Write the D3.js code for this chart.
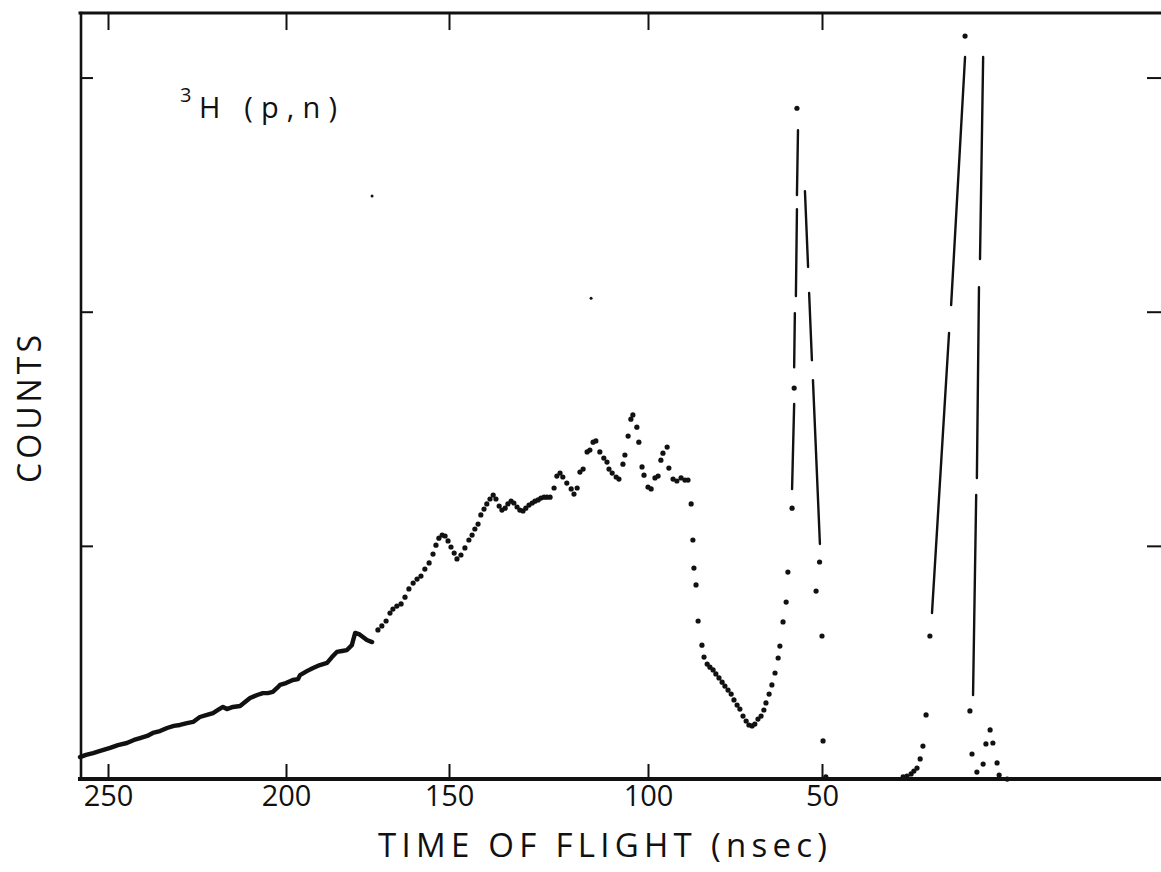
<!DOCTYPE html>
<html><head><meta charset="utf-8">
<script src="https://cdn.jsdelivr.net/npm/d3@7"></script>
<style>body{margin:0;background:#fff} svg{display:block}</style>
</head><body>
<script>
// ---- data (time of flight in nsec, counts in arbitrary units) ----
const xTickValues = [250, 200, 150, 100, 50];
const xTickLabels = ["250", "200", "150", "100", "50"];
const yTickValues = [1000, 2000, 3000];

// dense low-TOF-tail part of the spectrum (plotted as a continuous heavy trace)
const denseSeries = [
[257.9,98],[256.2,107],[254.2,115],[252.2,124],[249.4,137],[247.2,149],[244.7,158],[242.7,171],[241.0,179],[239.0,188],
[237.4,201],[235.4,209],[233.4,222],[231.5,231],[229.8,235],[227.8,243],[226.1,248],[224.2,269],[222.2,278],[220.5,286],
[219.1,299],[217.7,312],[216.6,303],[214.9,312],[212.9,316],[211.5,333],[210.1,350],[208.1,363],[206.5,371],[205.1,371],
[203.7,376],[202.5,393],[201.7,406],[200.0,414],[197.9,427],[196.3,431],[195.7,448],[193.6,465],[191.7,478],[189.6,491],
[187.4,500],[185.9,525],[184.4,547],[182.8,551],[181.3,555],[179.8,576],[178.8,628],[177.6,623],[176.4,611],[175.2,598],[173.6,589]
];

// individual channel points
const dotSeries = [
[171.8,641],[170.6,658],[169.3,679],[168.1,713],[167.2,730],[166.0,743],[164.7,752],[163.5,781],[162.3,816],[161.0,841],
[159.8,858],[158.6,871],[157.4,901],[156.1,927],[154.9,965],[154.0,1003],[153.1,1033],[152.1,1046],[151.2,1042],[150.3,1021],
[149.5,995],[148.7,969],[148.0,944],[147.0,961],[146.0,991],[145.0,1025],[144.2,1046],[143.5,1072],[142.7,1093],[142.0,1132],
[141.2,1157],[140.5,1179],[139.7,1200],[138.9,1217],[138.2,1200],[137.4,1170],[136.7,1153],[135.9,1161],[135.2,1179],[134.4,1191],
[133.7,1183],[132.9,1166],[132.2,1153],[131.4,1149],[130.7,1161],[129.9,1174],[129.1,1183],[128.4,1191],[127.6,1196],[126.9,1204],
[126.1,1208],[125.4,1208],[124.6,1208],[123.6,1247],[122.9,1298],[122.1,1311],[121.4,1294],[120.4,1268],[119.3,1243],[118.6,1221],
[117.8,1247],[117.1,1315],[116.3,1328],[115.3,1401],[114.6,1409],[113.8,1443],[113.1,1448],[112.1,1401],[111.1,1375],[110.3,1358],
[109.8,1328],[109.0,1311],[108.0,1294],[107.3,1285],[106.3,1349],[105.8,1388],[105.0,1469],[104.3,1541],[103.8,1559],[102.8,1507],
[102.3,1443],[101.5,1337],[101.0,1302],[100.0,1251],[99.1,1243],[98.0,1290],[97.1,1298],[96.3,1366],[95.7,1396],[94.5,1422],
[94.0,1332],[92.8,1285],[91.7,1277],[90.5,1290],[89.4,1281],[88.5,1281],[87.6,1179],[87.1,1025],[86.8,905],[86.2,833],
[85.6,679],[84.5,576],[83.9,525],[83.0,495],[82.2,482],[81.3,470],[80.5,453],[79.6,436],[78.7,418],[77.9,401],
[77.0,384],[76.1,367],[75.3,342],[74.4,320],[73.6,303],[72.7,273],[71.8,252],[71.0,235],[70.1,231],[69.3,239],
[68.4,260],[67.5,273],[66.7,299],[66.1,329],[65.2,367],[64.4,406],[63.5,457],[62.6,521],[62.1,572],[61.2,675],
[60.3,760],[59.8,888],[58.6,1161],[58.0,1674],[57.2,2869],[50.7,931],[51.7,807],[50.0,615],[49.7,167],[48.9,13],
[26.7,13],[25.6,17],[24.4,26],[23.6,38],[22.7,51],[21.8,90],[21.0,145],[20.1,278],[19.0,615],[8.9,3177],
[7.5,295],[6.9,111],[5.5,34],[3.7,68],[2.9,154],[1.7,214],[0.9,158],[-0.3,73],[-0.9,21],[-3.2,4]
];

// pen strokes joining widely separated channels on the two peaks: [tof1, count1, tof2, count2]
const peakStrokes = [
[56.9,2775,57.2,2498],[57.2,2438,57.5,2067],[57.8,1994,58.0,1763],[58.0,1606,58.6,1243],
[54.9,2515,54.0,2191],[53.7,2080,52.9,1793],[52.6,1708,50.6,1008],
[8.9,3088,12.9,2028],[13.5,1909,18.4,713],
[3.7,3088,4.6,2225],[4.9,2105,5.5,1290],[5.7,1217,6.6,363]
];

// stray marks on the sheet
const strayMarks = [[173.6,2494],[114.3,2058]];

// ---- layout ----
const W = 1161, H = 872;
const xDomainStops = [257.9, 250, 200, 150, 100, 50, -47.4];
const xRangeStops  = [80, 108, 286, 449, 648, 822, 1161];
const x = d3.scaleLinear().domain(xDomainStops).range(xRangeStops);
const y = d3.scaleLinear().domain([0, 3280]).range([780, 12]);

const FONT = "'Open Sans', 'DejaVu Sans', sans-serif";
const INK = "#111";

const svg = d3.select("body").append("svg").attr("width", W).attr("height", H)
  .style("background", "#fff");

const xL = xRangeStops[0], xR = xRangeStops[xRangeStops.length - 1];
const yB = y.range()[0], yT = y.range()[1];

// frame (right edge of the sheet falls outside the picture)
const frame = svg.append("g").attr("stroke", INK).attr("stroke-linecap", "square");
frame.append("line").attr("x1", xL + 1).attr("x2", xL + 1).attr("y1", yT + 1).attr("y2", yB - 1).attr("stroke-width", 2.6);
frame.append("line").attr("x1", xL).attr("x2", xR + 2).attr("y1", yT + 1).attr("y2", yT + 1).attr("stroke-width", 3);
frame.append("line").attr("x1", xL).attr("x2", xR + 2).attr("y1", yB - 1).attr("y2", yB - 1).attr("stroke-width", 4);

// axes
function styleAxis(sel) {
  sel.select(".domain").remove();
  sel.selectAll(".tick line").attr("stroke", INK).attr("stroke-width", 2);
  sel.selectAll(".tick text").attr("fill", INK).style("font-family", FONT)
     .style("font-size", "29px").style("font-weight", 400);
}
svg.append("g").attr("transform", `translate(0,${yB - 1})`)
  .call(d3.axisBottom(x).tickValues(xTickValues).tickFormat((d, i) => xTickLabels[i])
        .tickSizeInner(-15).tickSizeOuter(0).tickPadding(6))
  .call(styleAxis);
svg.append("g").attr("transform", `translate(0,${yT + 1})`)
  .call(d3.axisTop(x).tickValues(xTickValues).tickFormat("").tickSizeInner(-17).tickSizeOuter(0))
  .call(styleAxis);
svg.append("g").attr("transform", `translate(${xL + 1},0)`)
  .call(d3.axisLeft(y).tickValues(yTickValues).tickFormat("").tickSizeInner(-12).tickSizeOuter(0))
  .call(styleAxis);
svg.append("g").attr("transform", `translate(${xR + 1},0)`)
  .call(d3.axisRight(y).tickValues(yTickValues).tickFormat("").tickSizeInner(-15).tickSizeOuter(0))
  .call(styleAxis);

// data
const plot = svg.append("g");
plot.append("path").datum(denseSeries)
  .attr("d", d3.line().x(d => x(d[0])).y(d => y(d[1])))
  .attr("fill", "none").attr("stroke", INK).attr("stroke-width", 4.4)
  .attr("stroke-linejoin", "round").attr("stroke-linecap", "round");

plot.selectAll("circle.pt").data(dotSeries).join("circle").attr("class", "pt")
  .attr("cx", d => x(d[0])).attr("cy", d => y(d[1])).attr("r", 2.6).attr("fill", INK);

plot.selectAll("line.pk").data(peakStrokes).join("line").attr("class", "pk")
  .attr("x1", d => x(d[0])).attr("y1", d => y(d[1]))
  .attr("x2", d => x(d[2])).attr("y2", d => y(d[3]))
  .attr("stroke", INK).attr("stroke-width", 2.4).attr("stroke-linecap", "round");

plot.selectAll("circle.stray").data(strayMarks).join("circle").attr("class", "stray")
  .attr("cx", d => x(d[0])).attr("cy", d => y(d[1])).attr("r", 1.5).attr("fill", INK);

// labels
svg.append("text").attr("x", 180).attr("y", 102).text("3")
  .style("font-family", FONT).style("font-size", "20px").style("font-weight", 400).attr("fill", INK);
svg.append("text").attr("x", 199).attr("y", 118).text("H (p,n)")
  .attr("textLength", 138).attr("lengthAdjust", "spacing")
  .style("font-family", FONT).style("font-size", "29px").style("font-weight", 400).attr("fill", INK);

svg.append("text").attr("transform", "translate(41,409) rotate(-90)")
  .attr("text-anchor", "middle").text("COUNTS")
  .attr("textLength", 148).attr("lengthAdjust", "spacing")
  .style("font-family", FONT).style("font-size", "32px").style("font-weight", 400).attr("fill", INK);

svg.append("text").attr("x", 378).attr("y", 857).text("TIME OF FLIGHT (nsec)")
  .attr("textLength", 449).attr("lengthAdjust", "spacing")
  .style("font-family", FONT).style("font-size", "33px").style("font-weight", 400).attr("fill", INK);
</script>
</body></html>
